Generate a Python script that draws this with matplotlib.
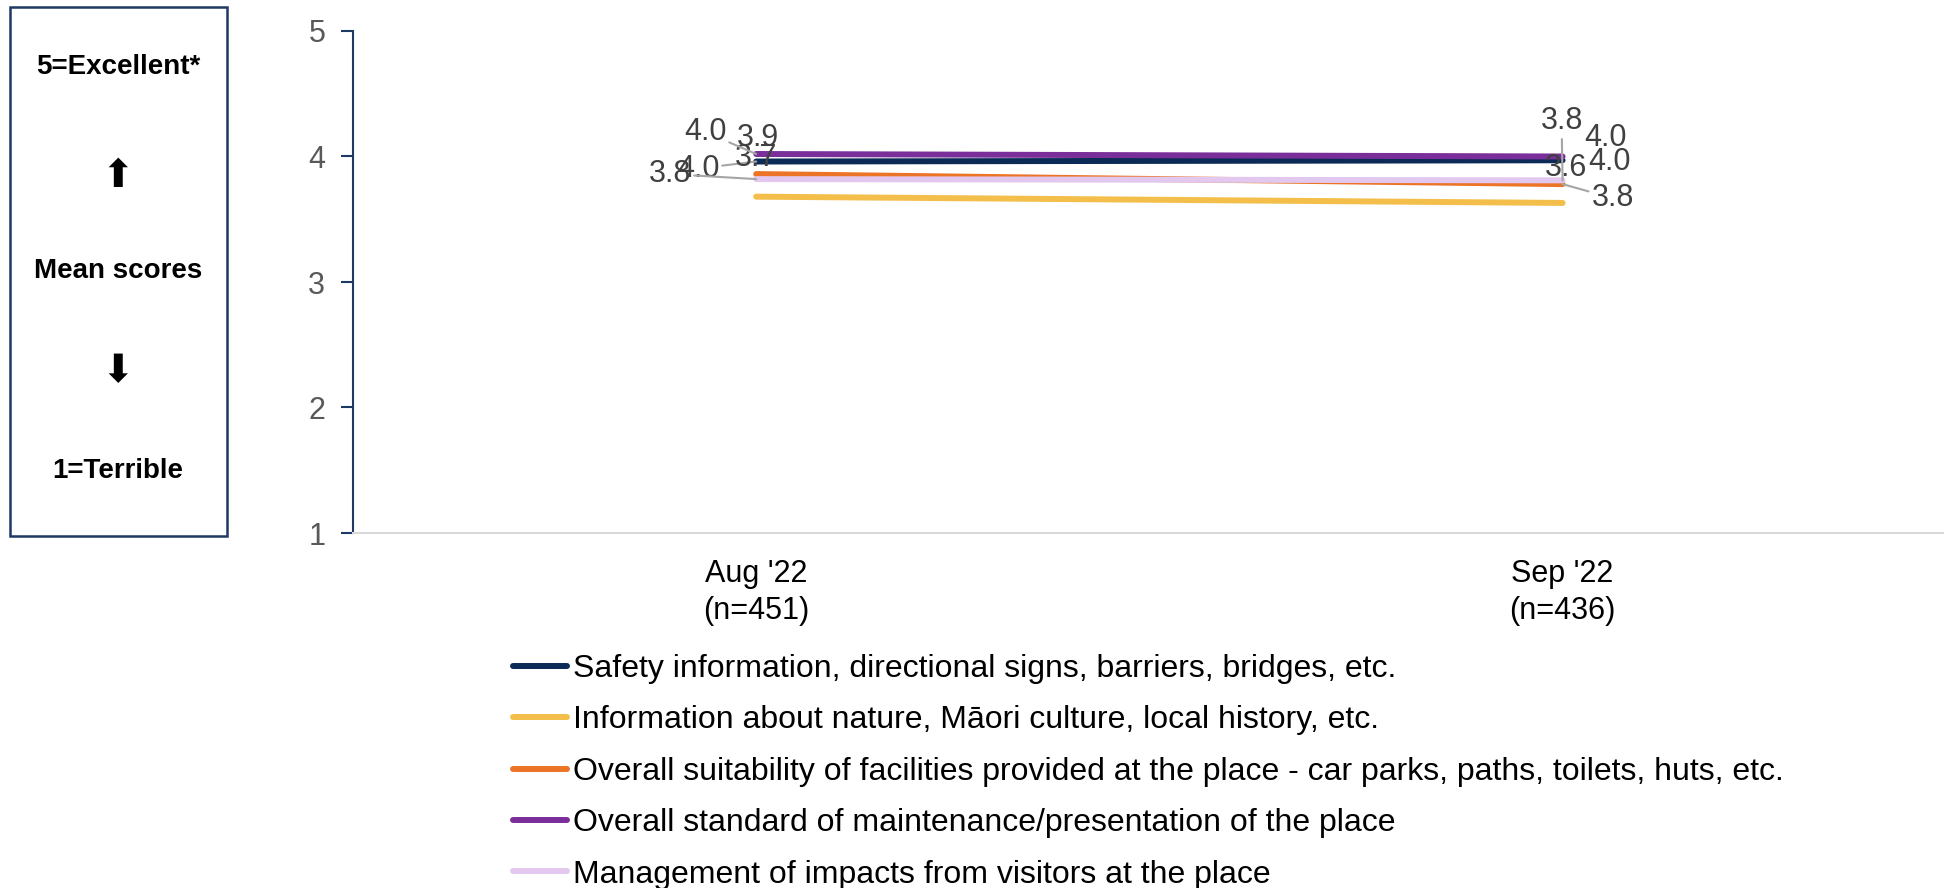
import matplotlib.pyplot as plt
from matplotlib.patches import Rectangle

plt.rcParams['font.family'] = ['Liberation Sans', 'DejaVu Sans']

# data
months = ["Aug '22\n(n=451)", "Sep '22\n(n=436)"]
series = [
    'Safety information, directional signs, barriers, bridges, etc.',
    'Information about nature, Māori culture, local history, etc.',
    'Overall suitability of facilities provided at the place - car parks, paths, toilets, huts, etc.',
    'Overall standard of maintenance/presentation of the place',
    'Management of impacts from visitors at the place',
]
safety = [3.96, 3.97]
nature_info = [3.68, 3.63]
facilities = [3.86, 3.78]
maintenance = [4.02, 4.00]
impacts = [3.82, 3.81]
values = [safety, nature_info, facilities, maintenance, impacts]
colors = ['#0B2A55', '#F3BF4A', '#EC7427', '#7A2E9A', '#E2C8EE']

# label offsets in pixels (dx, dy) per series per month, and whether a leader line is drawn
label_offsets = [
    [(-58, -7, True), (47, -2, False)],
    [(0, 39, False), (3, 35, False)],
    [(2, 36, False), (50, -14, True)],
    [(-51, 22, True), (43, 18, False)],
    [(-86, 5, True), (-1, 59, True)],
]

fig = plt.figure(figsize=(19.44, 8.88), dpi=100)
ax = fig.add_axes([353/1944, 1-533/888, 1-353/1944, (533-31)/888])

x = list(range(len(months)))
for vals, name, c in zip(values, series, colors):
    ax.plot(x, vals, color=c, lw=4.3, solid_capstyle='round', label=name)

for vals, offs in zip(values, label_offsets):
    for xi, v, (dx, dy, lead) in zip(x, vals, offs):
        kw = {}
        if lead:
            kw['arrowprops'] = dict(arrowstyle='-', color='#A6A6A6', lw=1.5,
                                    shrinkA=0, shrinkB=0)
        ax.annotate(f'{v:.1f}', (xi, v), xytext=(dx, dy), textcoords='offset pixels',
                    ha='center', va='center', fontsize=22, color='#404040', **kw)

ax.set_xlim(-0.5, 1.473)
ax.set_ylim(1, 5)
ax.set_yticks([1, 2, 3, 4, 5])
ax.set_xticks(x)
ax.set_xticklabels(months, fontsize=22, color='#000000', linespacing=1.28)
ax.tick_params(axis='x', length=0, pad=19)
ax.tick_params(axis='y', labelsize=22, labelcolor='#595959', color='#1F3864',
               length=9, width=1.5, pad=11)
for s in ['top', 'right']:
    ax.spines[s].set_visible(False)
ax.spines['left'].set_color('#1F3864')
ax.spines['left'].set_linewidth(1.5)
ax.spines['bottom'].set_color('#D9D9D9')
ax.spines['bottom'].set_linewidth(1.5)

ax.legend(loc='upper left', bbox_to_anchor=(513/1944, 1-654/888),
          bbox_transform=fig.transFigure, frameon=False, fontsize=23,
          handlelength=1.7, handletextpad=0.18, labelspacing=0.67,
          borderpad=0, borderaxespad=0)

# left side box
fig.add_artist(Rectangle((10/1944, 1-536/888), 217/1944, 529/888,
                         transform=fig.transFigure, fill=False,
                         edgecolor='#1F3864', lw=1.8))
cx = 118/1944
fig.text(cx, 1-67/888, '5=Excellent*', ha='center', va='center',
         fontsize=20, fontweight='bold')
fig.text(cx, 1-176/888, '⬆', ha='center', va='center', fontsize=28,
         family='DejaVu Sans')
fig.text(cx, 1-271/888, 'Mean scores', ha='center', va='center',
         fontsize=20, fontweight='bold')
fig.text(cx, 1-371/888, '⬇', ha='center', va='center', fontsize=28,
         family='DejaVu Sans')
fig.text(cx, 1-471/888, '1=Terrible', ha='center', va='center',
         fontsize=20, fontweight='bold')

fig.savefig('out.png', dpi=100)
